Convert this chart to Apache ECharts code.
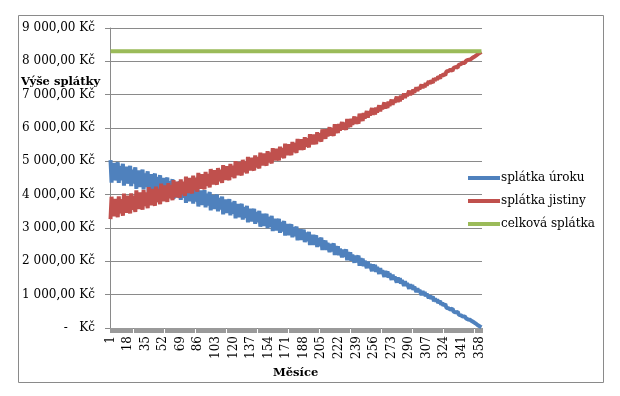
<!DOCTYPE html>
<html>
<head>
<meta charset="utf-8">
<script src="https://cdn.jsdelivr.net/npm/echarts@6/dist/echarts.min.js"></script>
<style>
html,body{margin:0;padding:0;background:#fff;}
#chart{width:620px;height:396px;}
</style>
</head>
<body>
<div id="chart"></div>
<script>
// Categories: months 1..360
var months = [
1,2,3,4,5,6,7,8,9,10,11,12,13,14,15,16,17,18,19,20,
21,22,23,24,25,26,27,28,29,30,31,32,33,34,35,36,37,38,39,40,
41,42,43,44,45,46,47,48,49,50,51,52,53,54,55,56,57,58,59,60,
61,62,63,64,65,66,67,68,69,70,71,72,73,74,75,76,77,78,79,80,
81,82,83,84,85,86,87,88,89,90,91,92,93,94,95,96,97,98,99,100,
101,102,103,104,105,106,107,108,109,110,111,112,113,114,115,116,117,118,119,120,
121,122,123,124,125,126,127,128,129,130,131,132,133,134,135,136,137,138,139,140,
141,142,143,144,145,146,147,148,149,150,151,152,153,154,155,156,157,158,159,160,
161,162,163,164,165,166,167,168,169,170,171,172,173,174,175,176,177,178,179,180,
181,182,183,184,185,186,187,188,189,190,191,192,193,194,195,196,197,198,199,200,
201,202,203,204,205,206,207,208,209,210,211,212,213,214,215,216,217,218,219,220,
221,222,223,224,225,226,227,228,229,230,231,232,233,234,235,236,237,238,239,240,
241,242,243,244,245,246,247,248,249,250,251,252,253,254,255,256,257,258,259,260,
261,262,263,264,265,266,267,268,269,270,271,272,273,274,275,276,277,278,279,280,
281,282,283,284,285,286,287,288,289,290,291,292,293,294,295,296,297,298,299,300,
301,302,303,304,305,306,307,308,309,310,311,312,313,314,315,316,317,318,319,320,
321,322,323,324,325,326,327,328,329,330,331,332,333,334,335,336,337,338,339,340,
341,342,343,344,345,346,347,348,349,350,351,352,353,354,355,356,357,358,359,360
];

// splátka úroku (interest payment), one value per month
var splatkaUroku = [
5035,4362,4922,4488,4952,4425,4840,4972,4354,4860,4432,4750,
4927,4268,4816,4391,4844,4328,4733,4862,4258,4752,4333,4643,
4816,4171,4706,4290,4732,4228,4624,4749,4158,4640,4230,4533,
4701,4072,4594,4187,4618,4126,4511,4632,4056,4526,4126,4420,
4583,3970,4477,4081,4500,4020,4395,4513,3951,4408,4018,4304,
4463,3864,4358,3972,4380,3911,4276,4391,3843,4287,3907,4185,
4339,3756,4236,3860,4256,3800,4154,4264,3732,4163,3793,4063,
4210,3645,4109,3744,4128,3685,4027,4134,3617,4034,3676,3935,
4079,3530,3980,3625,3995,3567,3898,3999,3500,3902,3554,3806,
3943,3412,3846,3503,3860,3445,3765,3863,3379,3767,3430,3672,
3804,3292,3709,3377,3721,3320,3627,3721,3253,3626,3302,3533,
3660,3166,3567,3247,3577,3191,3486,3574,3125,3483,3170,3393,
3513,3038,3422,3114,3429,3059,3340,3425,2994,3335,3035,3247,
3361,2906,3273,2977,3278,2923,3191,3270,2858,3183,2896,3097,
3205,2770,3119,2837,3122,2783,3036,3111,2718,3026,2752,2943,
3044,2630,2960,2691,2961,2639,2878,2949,2575,2866,2606,2785,
2880,2488,2798,2543,2796,2491,2716,2780,2427,2700,2454,2620,
2709,2339,2630,2389,2626,2338,2548,2608,2275,2529,2298,2453,
2534,2187,2458,2232,2452,2182,2376,2430,2119,2355,2137,2281,
2355,2030,2281,2069,2272,2020,2199,2247,1958,2175,1972,2103,
2170,1869,2098,1902,2086,1854,2017,2060,1793,1990,1803,1921,
1980,1705,1910,1731,1896,1684,1829,1866,1623,1798,1628,1732,
1784,1534,1717,1554,1701,1508,1636,1666,1447,1603,1449,1539,
1583,1359,1519,1372,1499,1327,1438,1462,1268,1401,1264,1340,
1376,1178,1316,1186,1293,1141,1234,1252,1083,1193,1074,1136,
1163,994,1106,993,1079,950,1024,1035,892,980,878,925,
943,802,889,795,860,753,807,812,696,759,677,709,
718,606,666,591,634,551,584,582,494,534,470,486,
485,404,437,382,402,342,356,347,286,301,257,257,
247,197,202,166,164,129,121,104,73,62,38,21
];

// splátka jistiny (principal payment), one value per month
var splatkaJistiny = [
3265,3938,3378,3812,3348,3875,3460,3328,3946,3440,3868,3550,
3373,4032,3484,3909,3456,3972,3567,3438,4042,3548,3967,3657,
3484,4129,3594,4010,3568,4072,3676,3551,4142,3660,4070,3767,
3599,4228,3706,4113,3682,4174,3789,3668,4244,3774,4174,3880,
3717,4330,3823,4219,3800,4280,3905,3787,4349,3892,4282,3996,
3837,4436,3942,4328,3920,4389,4024,3909,4457,4013,4393,4115,
3961,4544,4064,4440,4044,4500,4146,4036,4568,4137,4507,4237,
4090,4655,4191,4556,4172,4615,4273,4166,4683,4266,4624,4365,
4221,4770,4320,4675,4305,4733,4402,4301,4800,4398,4746,4494,
4357,4888,4454,4797,4440,4855,4535,4437,4921,4533,4870,4628,
4496,5008,4591,4923,4579,4980,4673,4579,5047,4674,4998,4767,
4640,5134,4733,5053,4723,5109,4814,4726,5175,4817,5130,4907,
4787,5262,4878,5186,4871,5241,4960,4875,5306,4965,5265,5053,
4939,5394,5027,5323,5022,5377,5109,5030,5442,5117,5404,5203,
5095,5530,5181,5463,5178,5517,5264,5189,5582,5274,5548,5357,
5256,5670,5340,5609,5339,5661,5422,5351,5725,5434,5694,5515,
5420,5812,5502,5757,5504,5809,5584,5520,5873,5600,5846,5680,
5591,5961,5670,5911,5674,5962,5752,5692,6025,5771,6002,5847,
5766,6113,5842,6068,5848,6118,5924,5870,6181,5945,6163,6019,
5945,6270,6019,6231,6028,6280,6101,6053,6342,6125,6328,6197,
6130,6431,6202,6398,6214,6446,6283,6240,6507,6310,6497,6379,
6320,6595,6390,6569,6404,6616,6471,6434,6677,6502,6672,6568,
6516,6766,6583,6746,6599,6792,6664,6634,6853,6697,6851,6761,
6717,6941,6781,6928,6801,6973,6862,6838,7032,6899,7036,6960,
6924,7122,6984,7114,7007,7159,7066,7048,7217,7107,7226,7164,
7137,7306,7194,7307,7221,7350,7276,7265,7408,7320,7422,7375,
7357,7498,7411,7505,7440,7547,7493,7488,7604,7541,7623,7591,
7582,7694,7634,7709,7666,7749,7716,7718,7806,7766,7830,7814,
7815,7896,7863,7918,7898,7958,7944,7953,8014,7999,8043,8043,
8053,8103,8098,8134,8136,8171,8179,8196,8227,8238,8262,8279
];

// celková splátka (total payment), one value per month
var celkovaSplatka = [
8300,8300,8300,8300,8300,8300,8300,8300,8300,8300,8300,8300,8300,8300,8300,8300,8300,8300,8300,8300,
8300,8300,8300,8300,8300,8300,8300,8300,8300,8300,8300,8300,8300,8300,8300,8300,8300,8300,8300,8300,
8300,8300,8300,8300,8300,8300,8300,8300,8300,8300,8300,8300,8300,8300,8300,8300,8300,8300,8300,8300,
8300,8300,8300,8300,8300,8300,8300,8300,8300,8300,8300,8300,8300,8300,8300,8300,8300,8300,8300,8300,
8300,8300,8300,8300,8300,8300,8300,8300,8300,8300,8300,8300,8300,8300,8300,8300,8300,8300,8300,8300,
8300,8300,8300,8300,8300,8300,8300,8300,8300,8300,8300,8300,8300,8300,8300,8300,8300,8300,8300,8300,
8300,8300,8300,8300,8300,8300,8300,8300,8300,8300,8300,8300,8300,8300,8300,8300,8300,8300,8300,8300,
8300,8300,8300,8300,8300,8300,8300,8300,8300,8300,8300,8300,8300,8300,8300,8300,8300,8300,8300,8300,
8300,8300,8300,8300,8300,8300,8300,8300,8300,8300,8300,8300,8300,8300,8300,8300,8300,8300,8300,8300,
8300,8300,8300,8300,8300,8300,8300,8300,8300,8300,8300,8300,8300,8300,8300,8300,8300,8300,8300,8300,
8300,8300,8300,8300,8300,8300,8300,8300,8300,8300,8300,8300,8300,8300,8300,8300,8300,8300,8300,8300,
8300,8300,8300,8300,8300,8300,8300,8300,8300,8300,8300,8300,8300,8300,8300,8300,8300,8300,8300,8300,
8300,8300,8300,8300,8300,8300,8300,8300,8300,8300,8300,8300,8300,8300,8300,8300,8300,8300,8300,8300,
8300,8300,8300,8300,8300,8300,8300,8300,8300,8300,8300,8300,8300,8300,8300,8300,8300,8300,8300,8300,
8300,8300,8300,8300,8300,8300,8300,8300,8300,8300,8300,8300,8300,8300,8300,8300,8300,8300,8300,8300,
8300,8300,8300,8300,8300,8300,8300,8300,8300,8300,8300,8300,8300,8300,8300,8300,8300,8300,8300,8300,
8300,8300,8300,8300,8300,8300,8300,8300,8300,8300,8300,8300,8300,8300,8300,8300,8300,8300,8300,8300,
8300,8300,8300,8300,8300,8300,8300,8300,8300,8300,8300,8300,8300,8300,8300,8300,8300,8300,8300,8300
];

var seriesNames = ['splátka úroku', 'splátka jistiny', 'celková splátka'];
var yTickLabels = ['-   Kč','1 000,00 Kč','2 000,00 Kč','3 000,00 Kč','4 000,00 Kč','5 000,00 Kč','6 000,00 Kč','7 000,00 Kč','8 000,00 Kč','9 000,00 Kč'];
var yAxisTitle = 'Výše splátky';
var xAxisTitle = 'Měsíce';

var FONT = '"DejaVu Serif", "Liberation Serif", serif';
var chart = echarts.init(document.getElementById('chart'), null, {renderer: 'canvas'});
chart.setOption({
  animation: false,
  backgroundColor: '#ffffff',
  color: ['#4F81BD', '#C0504D', '#9BBB59'],
  grid: {left: 110, right: 138, top: 28, bottom: 68, containLabel: false},
  graphic: [
    {type: 'rect', shape: {x: 18.5, y: 15.5, width: 585, height: 367}, style: {fill: 'none', stroke: '#8a8a8a', lineWidth: 1}, z: -10},
    {type: 'text', left: 21, top: 76, style: {text: yAxisTitle, font: 'bold 11.5px ' + FONT, fill: '#000'}},
    {type: 'text', left: 273, top: 367, style: {text: xAxisTitle, font: 'bold 11.5px ' + FONT, fill: '#000'}}
  ],
  legend: {
    orient: 'vertical', left: 463, top: 167,
    itemWidth: 32, itemHeight: 4, itemGap: 11,
    icon: 'rect',
    data: seriesNames,
    textStyle: {fontFamily: FONT, fontSize: 12, color: '#000', padding: [0, 0, 0, -4]}
  },
  xAxis: {
    type: 'category',
    data: months,
    boundaryGap: true,
    axisLine: {lineStyle: {color: '#8a8a8a', width: 1}},
    axisTick: {show: true, interval: 0, length: 5, lineStyle: {color: '#9a9a9a'}},
    axisLabel: {interval: 16, rotate: 90, margin: 8, fontFamily: FONT, fontSize: 12, color: '#000'},
    splitLine: {show: false}
  },
  yAxis: {
    type: 'value',
    min: 0, max: 9000, interval: 1000,
    axisLine: {show: true, lineStyle: {color: '#8a8a8a', width: 1}},
    axisTick: {show: true, length: 5, lineStyle: {color: '#8a8a8a'}},
    axisLabel: {
      margin: 15, fontFamily: FONT, fontSize: 12, color: '#000',
      formatter: function (v) { return yTickLabels[Math.round(v / 1000)]; }
    },
    splitLine: {show: true, lineStyle: {color: '#8a8a8a', width: 1}}
  },
  series: [
    {name: seriesNames[0], type: 'line', data: splatkaUroku, showSymbol: false, symbol: 'none', sampling: 'none', lineStyle: {width: 4}, z: 2},
    {name: seriesNames[1], type: 'line', data: splatkaJistiny, showSymbol: false, symbol: 'none', sampling: 'none', lineStyle: {width: 4}, z: 3},
    {name: seriesNames[2], type: 'line', data: celkovaSplatka, showSymbol: false, symbol: 'none', lineStyle: {width: 4}, z: 4}
  ]
});
</script>
</body>
</html>
